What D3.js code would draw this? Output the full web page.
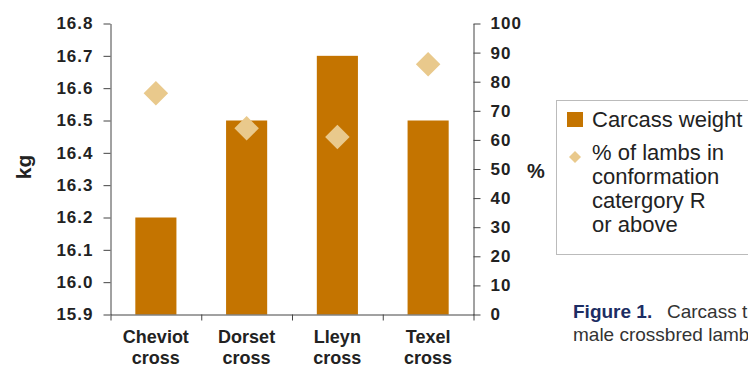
<!DOCTYPE html>
<html>
<head>
<meta charset="utf-8">
<script src="https://cdn.jsdelivr.net/npm/d3@7"></script>
<style>
  html, body { margin: 0; padding: 0; background: #fff; }
  svg { display: block; }
  text { font-family: "Liberation Sans", Arial, sans-serif; }
</style>
</head>
<body>
<svg id="chart" width="748" height="365"></svg>
<script>
// ---- data ----
const categories = ["Cheviot", "Dorset", "Lleyn", "Texel"];
const categorySub = ["cross", "cross", "cross", "cross"];
const carcassWeight = [16.2, 16.5, 16.7, 16.5];
const pctConformationR = [76, 64, 61, 86];
const leftTicks = [15.9, 16.0, 16.1, 16.2, 16.3, 16.4, 16.5, 16.6, 16.7, 16.8];
const rightTicks = [0, 10, 20, 30, 40, 50, 60, 70, 80, 90, 100];
const legendLabels = ["Carcass weight", "% of lambs in", "conformation", "catergory R", "or above"];
const captionBold = "Figure 1.";
const captionLine1 = "Carcass traits of";
const captionLine2 = "male crossbred lambs";

// ---- layout ----
const svg = d3.select("#chart");
const plotL = 110.5, plotR = 473.5, plotT = 23.5, plotB = 314.5;
const barColor = "#c47400";
const diamondColor = "#e9c98c";

const x = d3.scaleBand().domain(categories).range([plotL, plotR])
  .paddingInner(0.547).paddingOuter(0.2735);
const xb = d3.scaleLinear().domain([0, categories.length]).range([plotL, plotR]);
const yL = d3.scaleLinear().domain([15.9, 16.8]).range([plotB, plotT]);
const yR = d3.scaleLinear().domain([0, 100]).range([plotB, plotT]);

// bars
svg.append("g").selectAll("rect").data(categories).join("rect")
  .attr("x", d => x(d))
  .attr("width", x.bandwidth())
  .attr("y", (d, i) => yL(carcassWeight[i]))
  .attr("height", (d, i) => yL(15.9) - yL(carcassWeight[i]))
  .attr("fill", barColor);

// left axis
const gL = svg.append("g").attr("transform", `translate(${plotL},0)`)
  .call(d3.axisLeft(yL).tickValues(leftTicks).tickFormat(d3.format(".1f"))
    .tickSize(7).tickSizeOuter(0).tickPadding(10));
gL.selectAll("text").attr("font-size", 17).attr("font-weight", "bold")
  .attr("fill", "#222").attr("letter-spacing", "1px");

// right axis
const gR = svg.append("g").attr("transform", `translate(${plotR},0)`)
  .call(d3.axisRight(yR).tickValues(rightTicks).tickFormat(d3.format("d"))
    .tickSize(7).tickSizeOuter(0).tickPadding(10));
gR.selectAll("text").attr("font-size", 17).attr("font-weight", "bold")
  .attr("fill", "#222").attr("letter-spacing", "1px");

// bottom axis (ticks at category boundaries)
const gB = svg.append("g").attr("transform", `translate(0,${plotB})`)
  .call(d3.axisBottom(xb).tickValues(d3.range(categories.length + 1))
    .tickFormat("").tickSize(6).tickSizeOuter(0));

[gL, gR, gB].forEach(g => {
  g.selectAll("path,line").attr("stroke", "#444").attr("stroke-width", 1);
});

// category labels
const cl = svg.append("g").selectAll("text").data(categories).join("text")
  .attr("x", d => x(d) + x.bandwidth() / 2)
  .attr("y", 343)
  .attr("text-anchor", "middle")
  .attr("font-size", 18).attr("font-weight", "bold").attr("fill", "#222");
cl.append("tspan").text(d => d);
cl.append("tspan").attr("x", d => x(d) + x.bandwidth() / 2).attr("dy", 21)
  .text((d, i) => categorySub[i]);

// diamonds
const diamond = d3.symbol().type(d3.symbolSquare).size(300);
svg.append("g").selectAll("path").data(categories).join("path")
  .attr("d", diamond)
  .attr("transform", (d, i) =>
    `translate(${x(d) + x.bandwidth() / 2},${yR(pctConformationR[i])}) rotate(45)`)
  .attr("fill", diamondColor);

// axis titles
svg.append("text").attr("transform", "translate(31,167) rotate(-90)")
  .attr("text-anchor", "middle").attr("font-size", 21).attr("font-weight", "bold")
  .attr("fill", "#222").text("kg");
svg.append("text").attr("x", 536).attr("y", 178)
  .attr("text-anchor", "middle").attr("font-size", 20).attr("font-weight", "bold")
  .attr("fill", "#222").text("%");

// legend
const lg = svg.append("g");
lg.append("rect").attr("x", 556.5).attr("y", 100.5).attr("width", 200).attr("height", 154)
  .attr("fill", "none").attr("stroke", "#777").attr("stroke-dasharray", "1,1");
lg.append("rect").attr("x", 567).attr("y", 112).attr("width", 16).attr("height", 15)
  .attr("fill", barColor);
lg.append("path").attr("d", d3.symbol().type(d3.symbolSquare).size(72))
  .attr("transform", "translate(575,157) rotate(45)").attr("fill", diamondColor);
lg.selectAll("text.leg").data(legendLabels).join("text").attr("class", "leg")
  .attr("x", 592)
  .attr("y", (d, i) => i === 0 ? 127 : 160 + (i - 1) * 24)
  .attr("font-size", 22).attr("fill", "#222")
  .text(d => d);

// caption
const cap = svg.append("g");
cap.append("text").attr("x", 573).attr("y", 318).attr("font-size", 19)
  .attr("font-weight", "bold").attr("fill", "#1c2d63").text(captionBold);
cap.append("text").attr("x", 667).attr("y", 318).attr("font-size", 19)
  .attr("fill", "#333").text(captionLine1);
cap.append("text").attr("x", 573).attr("y", 341).attr("font-size", 19)
  .attr("fill", "#333").text(captionLine2);
</script>
</body>
</html>
